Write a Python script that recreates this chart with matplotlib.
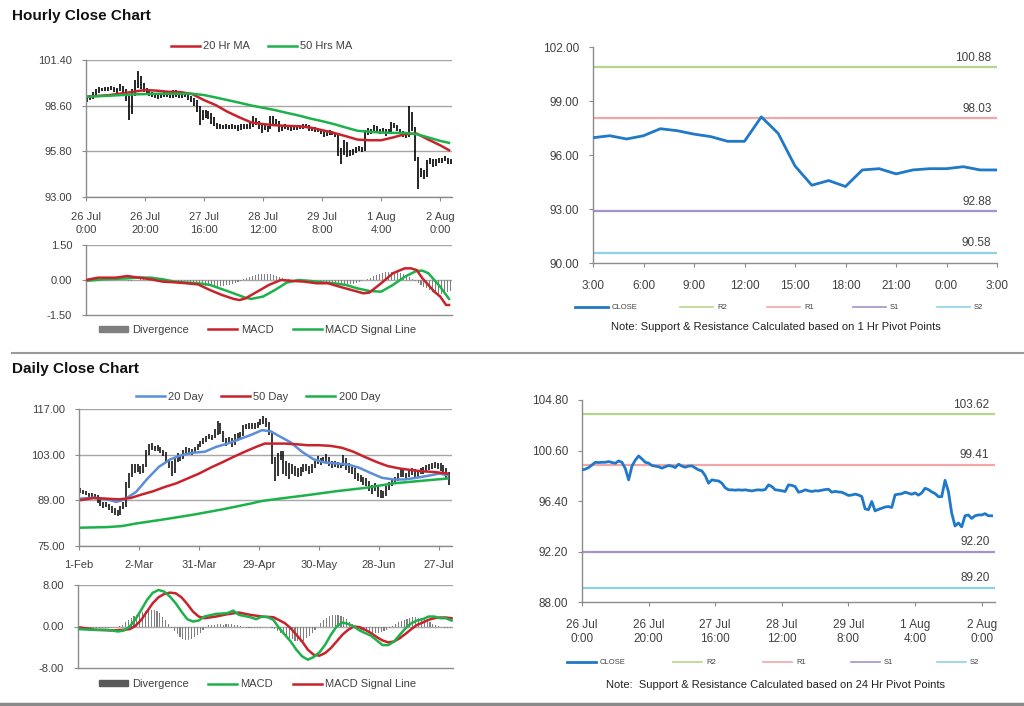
import matplotlib
matplotlib.use('Agg')
import matplotlib.pyplot as plt
from matplotlib.patches import Patch
from matplotlib.lines import Line2D

plt.rcParams['font.family'] = ['Liberation Sans', 'DejaVu Sans']

# ---------------- hourly data: 26 Jul 0:00 -> 2 Aug 3:00 (trading hours) ----------------
hourly_close = [
    98.99, 99.05, 99.18, 99.40, 99.62, 99.60, 99.62, 99.62, 99.68, 99.60,
    99.54, 99.73, 99.62, 99.10, 98.16, 99.30, 99.80, 100.15, 99.90, 99.62,
    99.55, 99.35, 99.30, 99.25, 99.13, 99.25, 99.35, 99.30, 99.18, 99.46,
    99.30, 99.21, 99.30, 99.32, 99.15, 98.99, 98.90, 98.50, 97.88, 98.16,
    98.10, 98.07, 97.88, 97.50, 97.33, 97.33, 97.30, 97.33, 97.30, 97.33,
    97.28, 97.24, 97.30, 97.33, 97.30, 97.35, 97.74, 97.60, 97.33, 97.30,
    97.25, 97.19, 97.74, 97.70, 97.60, 97.13, 97.20, 97.33, 97.25, 97.19,
    97.25, 97.24, 97.30, 97.35, 97.38, 97.13, 97.20, 97.15, 97.13, 97.00,
    96.86, 96.90, 96.97, 96.90, 96.77, 95.75, 95.67, 96.36, 95.58, 95.70,
    95.80, 95.90, 95.94, 95.86, 96.91, 96.97, 97.00, 97.13, 97.05, 96.96,
    97.07, 96.89, 97.07, 97.46, 97.35, 97.16, 97.02, 96.76, 96.76, 98.12,
    97.20, 95.39, 94.32, 94.58, 94.25, 95.17, 95.24, 94.95, 95.17, 95.24,
    95.24, 95.35, 95.17, 95.17]
hourly_high = [
    99.20, 99.25, 99.45, 99.65, 99.75, 99.70, 99.72, 99.75, 99.80, 99.72,
    99.70, 99.90, 99.80, 99.65, 99.20, 99.60, 100.20, 100.75, 100.40, 100.00,
    99.70, 99.60, 99.45, 99.40, 99.35, 99.40, 99.50, 99.45, 99.40, 99.55,
    99.55, 99.40, 99.45, 99.45, 99.40, 99.20, 99.05, 98.95, 98.55, 98.35,
    98.35, 98.30, 98.15, 97.90, 97.55, 97.45, 97.42, 97.45, 97.42, 97.45,
    97.42, 97.40, 97.45, 97.50, 97.45, 97.55, 97.95, 97.85, 97.65, 97.45,
    97.40, 97.35, 97.95, 97.95, 97.80, 97.65, 97.35, 97.45, 97.40, 97.35,
    97.35, 97.38, 97.42, 97.48, 97.50, 97.40, 97.32, 97.28, 97.25, 97.15,
    97.05, 97.00, 97.08, 97.05, 96.95, 96.80, 96.00, 96.50, 96.40, 95.90,
    95.95, 96.05, 96.10, 96.05, 97.10, 97.25, 97.20, 97.40, 97.35, 97.15,
    97.25, 97.15, 97.20, 97.60, 97.55, 97.40, 97.20, 97.05, 97.00, 98.60,
    98.20, 97.30, 95.45, 94.75, 94.65, 95.25, 95.40, 95.30, 95.30, 95.40,
    95.40, 95.50, 95.40, 95.30]
hourly_low = [
    98.85, 98.95, 99.00, 99.15, 99.35, 99.50, 99.52, 99.50, 99.55, 99.45,
    99.40, 99.50, 99.40, 98.90, 97.70, 98.10, 99.20, 99.70, 99.60, 99.45,
    99.30, 99.20, 99.15, 99.10, 99.00, 99.05, 99.15, 99.15, 99.05, 99.10,
    99.15, 99.05, 99.10, 99.15, 98.95, 98.80, 98.60, 98.20, 97.40, 97.75,
    97.85, 97.80, 97.50, 97.35, 97.20, 97.20, 97.20, 97.20, 97.18, 97.20,
    97.15, 97.05, 97.10, 97.20, 97.15, 97.20, 97.30, 97.40, 97.20, 96.95,
    97.10, 97.00, 97.15, 97.50, 97.40, 97.00, 97.05, 97.15, 97.10, 97.05,
    97.10, 97.10, 97.15, 97.20, 97.25, 97.05, 97.05, 97.00, 96.98, 96.85,
    96.70, 96.75, 96.80, 96.78, 96.65, 95.50, 95.05, 95.60, 95.45, 95.50,
    95.60, 95.70, 95.80, 95.75, 95.85, 96.80, 96.85, 96.95, 96.90, 96.85,
    96.90, 96.75, 96.85, 97.00, 97.25, 97.05, 96.85, 96.65, 96.60, 96.70,
    97.05, 95.20, 93.50, 94.20, 94.10, 94.20, 95.05, 94.85, 94.90, 95.10,
    95.10, 95.20, 95.05, 95.05]
hourly_ticks = [0, 20, 40, 60, 80, 100, 120]
hourly_ticklabels = ['26 Jul\n0:00', '26 Jul\n20:00', '27 Jul\n16:00', '28 Jul\n12:00',
                     '29 Jul\n8:00', '1 Aug\n4:00', '2 Aug\n0:00']

ma20h_x = [0, 8, 12, 16, 20, 24, 28, 32, 36, 40, 44, 48, 52, 56, 60, 64, 68, 72, 76, 80,
           84, 88, 92, 96, 100, 104, 108, 112, 116, 120, 123]
ma20h = [99.15, 99.25, 99.35, 99.45, 99.56, 99.52, 99.45, 99.43, 99.31, 98.94, 98.63, 98.22,
         97.88, 97.57, 97.47, 97.40, 97.36, 97.34, 97.26, 97.10, 96.93, 96.73, 96.52, 96.48,
         96.48, 96.65, 96.85, 96.89, 96.52, 96.17, 95.87]
ma50h_x = [0, 8, 16, 24, 32, 36, 40, 44, 48, 52, 56, 60, 64, 68, 72, 76, 80, 84, 88, 92,
           96, 100, 104, 108, 112, 116, 120, 123]
ma50h = [99.15, 99.21, 99.29, 99.33, 99.33, 99.33, 99.25, 99.10, 98.94, 98.78, 98.61, 98.47,
         98.33, 98.16, 98.00, 97.81, 97.65, 97.47, 97.26, 97.06, 97.00, 96.95, 96.93, 96.93,
         96.85, 96.65, 96.44, 96.32]

macd_h_x = [0, 4, 10, 14, 18, 22, 26, 30, 34, 38, 42, 46, 50, 52, 54, 58, 62, 66, 70, 74,
            78, 82, 86, 90, 94, 96, 100, 104, 108, 110, 112, 114, 118, 120, 122, 123]
macd_h = [0, 0.1, 0.1, 0.17, 0.1, 0.03, -0.07, -0.1, -0.14, -0.19, -0.43, -0.64, -0.81, -0.86,
          -0.79, -0.5, -0.21, 0, -0.04, -0.07, -0.14, -0.14, -0.29, -0.43, -0.57, -0.54, -0.14,
          0.29, 0.5, 0.5, 0.43, 0.07, -0.5, -0.71, -1.07, -1.07]
signal_h_x = [0, 6, 14, 18, 22, 26, 30, 34, 38, 42, 46, 50, 54, 56, 60, 64, 68, 72, 76, 80,
              84, 88, 92, 96, 100, 104, 108, 112, 114, 116, 118, 120, 122, 123]
signal_h = [-0.04, 0.03, 0.07, 0.11, 0.1, 0.03, -0.07, -0.11, -0.14, -0.21, -0.39, -0.57,
            -0.76, -0.81, -0.71, -0.43, -0.11, 0, -0.04, -0.1, -0.14, -0.21, -0.36, -0.47, -0.5,
            -0.21, 0.14, 0.39, 0.4, 0.29, 0, -0.29, -0.64, -0.81]
div_h = [
    0.02, 0.03, 0.04, 0.05, 0.05, 0.04, 0.04, 0.03, 0.03, 0.02,
    0.02, 0.03, 0.02, -0.02, -0.06, -0.05, -0.02, 0.02, 0.04, 0.03,
    -0.02, -0.04, -0.05, -0.06, -0.07, -0.06, -0.05, -0.04, -0.03, -0.02,
    -0.02, -0.03, -0.04, -0.05, -0.07, -0.09, -0.12, -0.15, -0.2, -0.22,
    -0.24, -0.26, -0.27, -0.28, -0.28, -0.27, -0.25, -0.22, -0.2, -0.17,
    -0.12, -0.08, -0.03, 0.03, 0.08, 0.13, 0.18, 0.22, 0.25, 0.27,
    0.27, 0.26, 0.24, 0.21, 0.17, 0.12, 0.08, 0.05, 0.03, 0.02,
    0.01, -0.01, -0.02, -0.03, -0.03, -0.04, -0.04, -0.05, -0.05, -0.05,
    -0.06, -0.07, -0.08, -0.1, -0.12, -0.14, -0.15, -0.16, -0.17, -0.16,
    -0.15, -0.13, -0.1, -0.06, -0.02, 0.04, 0.1, 0.16, 0.22, 0.27,
    0.3, 0.33, 0.35, 0.36, 0.35, 0.33, 0.3, 0.26, 0.2, 0.12,
    0.05, -0.04, -0.12, -0.2, -0.28, -0.36, -0.43, -0.5, -0.55, -0.58,
    -0.58, -0.55, -0.5, -0.45]

# pivot levels
pivot_1h = {'R2': 100.88, 'R1': 98.03, 'S1': 92.88, 'S2': 90.58}
pivot_24h = {'R2': 103.62, 'R1': 99.41, 'S1': 92.20, 'S2': 89.20}
last_day_labels = ['3:00', '6:00', '9:00', '12:00', '15:00', '18:00', '21:00', '0:00', '3:00']

# ---------------- daily data: 1 Feb -> 1 Aug (trading days) ----------------
daily_close = [
    92.0, 91.5, 91.2, 90.8, 90.5, 90.2, 89.8, 88.3, 87.5, 87.8,
    86.8, 86.2, 85.3, 84.8, 86.5, 87.2, 93.0, 96.5, 99.2, 98.5,
    99.0, 97.8, 99.5, 103.5, 105.0, 105.5, 104.8, 105.2, 104.0, 103.2,
    101.5, 100.2, 97.8, 101.2, 102.5, 102.0, 103.8, 104.5, 104.2, 103.8,
    104.5, 105.5, 106.5, 107.2, 108.0, 108.5, 108.2, 109.5, 112.5, 110.0,
    107.5, 106.8, 107.8, 106.5, 108.5, 107.8, 109.0, 111.2, 111.8, 111.5,
    112.0, 111.8, 112.2, 113.0, 113.5, 112.5, 110.0, 101.0, 97.0, 102.5,
    103.5, 98.5, 100.0, 97.5, 99.0, 98.0, 96.8, 98.5, 99.5, 99.0,
    98.0, 99.2, 100.5, 101.0, 100.8, 101.5, 102.0, 100.5, 99.8, 100.2,
    99.5, 99.8, 101.5, 100.8, 98.8, 98.2, 97.5, 95.8, 95.5, 94.5,
    94.8, 93.2, 92.8, 93.5, 92.0, 91.0, 90.5, 92.5, 93.5, 94.8,
    95.2, 96.5, 97.8, 97.2, 96.5, 97.5, 98.2, 96.8, 97.5, 98.0,
    98.5, 99.0, 99.5, 99.8, 100.0, 99.5, 99.2, 98.5, 97.5, 95.5]
daily_high = [
    92.8, 92.2, 91.8, 91.4, 91.2, 90.8, 90.5, 89.8, 88.5, 88.6,
    88.0, 87.2, 86.5, 86.0, 87.2, 88.5, 94.5, 97.5, 100.0, 100.0,
    100.2, 99.5, 100.2, 104.5, 106.2, 106.5, 105.8, 106.0, 105.5, 104.5,
    103.8, 101.8, 101.0, 102.2, 103.5, 103.0, 104.5, 105.5, 105.0, 104.8,
    105.2, 106.2, 107.2, 108.0, 108.8, 109.2, 109.0, 111.0, 113.4, 112.8,
    110.2, 108.2, 108.5, 108.0, 109.2, 109.5, 110.0, 112.0, 112.5, 112.6,
    112.8, 112.6, 113.0, 114.0, 115.0, 114.2, 113.0, 110.2, 102.2, 103.5,
    104.0, 104.2, 101.0, 100.5, 100.2, 99.5, 98.8, 99.2, 100.2, 100.2,
    99.5, 100.0, 101.2, 102.5, 102.0, 102.2, 103.2, 102.2, 101.0, 101.0,
    100.8, 100.5, 102.8, 102.0, 100.5, 99.2, 99.0, 97.5, 96.8, 96.0,
    95.8, 95.0, 93.8, 94.2, 93.8, 92.2, 91.8, 93.5, 94.5, 95.5,
    96.2, 97.5, 98.5, 98.5, 97.5, 98.5, 99.0, 98.5, 98.2, 98.8,
    99.2, 99.8, 100.2, 100.5, 100.8, 100.5, 100.5, 99.8, 98.8, 97.8]
daily_low = [
    91.2, 90.8, 90.5, 90.1, 89.8, 89.5, 88.2, 87.2, 86.8, 87.0,
    86.0, 85.0, 84.5, 84.3, 84.5, 86.2, 87.0, 92.8, 96.0, 97.5,
    97.8, 97.0, 97.5, 99.2, 103.0, 104.5, 104.0, 104.0, 103.5, 102.5,
    100.8, 99.0, 96.5, 97.5, 100.8, 101.2, 101.8, 103.5, 103.5, 103.0,
    103.5, 104.5, 105.2, 106.2, 107.0, 107.8, 107.5, 108.0, 109.0, 109.2,
    107.0, 105.8, 106.2, 105.5, 106.0, 107.2, 107.5, 108.8, 110.8, 110.8,
    111.0, 111.0, 111.2, 112.0, 112.5, 111.5, 109.0, 100.0, 95.0, 96.5,
    101.5, 97.0, 96.5, 95.5, 97.0, 96.5, 96.0, 96.5, 97.8, 98.0,
    97.2, 97.5, 99.0, 100.2, 99.8, 100.5, 100.5, 99.5, 99.0, 99.2,
    98.8, 98.8, 99.5, 98.2, 97.5, 97.0, 95.5, 94.8, 94.5, 93.8,
    93.5, 92.0, 91.0, 91.8, 90.0, 89.8, 89.6, 90.2, 92.2, 93.5,
    94.0, 95.0, 96.2, 96.2, 95.5, 96.0, 96.8, 96.0, 96.2, 97.0,
    97.2, 97.8, 98.2, 98.5, 98.8, 98.5, 98.0, 97.2, 95.8, 93.8]
daily_ticks = [0, 21, 42, 63, 84, 105, 126]
daily_ticklabels = ['1-Feb', '2-Mar', '31-Mar', '29-Apr', '30-May', '28-Jun', '27-Jul']

ma20d_x = [0, 5, 10, 13, 16, 20, 24, 28, 32, 36, 40, 44, 48, 52, 56, 60, 64, 67, 70, 74,
           78, 82, 86, 90, 94, 98, 102, 106, 110, 114, 118, 122, 126, 129]
ma20d = [89.5, 89.8, 89.3, 88.5, 89.3, 91.6, 95.7, 99.3, 101.6, 102.9, 103.6, 103.9, 105.4,
         106.4, 107.7, 109.0, 110.5, 110.2, 108.7, 106.8, 103.9, 101.6, 100.6, 100.3, 100.0,
         99.0, 97.4, 95.9, 95.4, 95.4, 95.9, 96.5, 97.2, 96.7]
ma50d_x = [0, 5, 10, 14, 18, 22, 26, 30, 34, 38, 42, 46, 50, 54, 58, 62, 65, 68, 72, 76,
           80, 84, 88, 92, 96, 100, 104, 108, 112, 116, 120, 124, 129]
ma50d = [89.0, 89.7, 89.5, 89.3, 89.7, 90.8, 91.8, 93.1, 94.2, 95.7, 97.2, 99.0, 100.6,
         102.3, 103.9, 105.4, 106.4, 106.4, 106.4, 106.2, 105.9, 105.9, 105.7, 105.1, 103.9,
         102.3, 100.8, 99.5, 98.8, 98.3, 97.9, 97.7, 97.2]
ma200d_x = [0, 10, 15, 20, 30, 40, 50, 60, 64, 70, 80, 90, 100, 110, 120, 129]
ma200d = [80.6, 80.8, 81.1, 81.9, 83.2, 84.6, 86.2, 88.0, 88.8, 89.5, 90.6, 91.8, 92.8,
          94.2, 95.0, 95.7]

macd_d_x = [0, 5, 10, 14, 16, 18, 20, 22, 24, 26, 28, 30, 32, 34, 36, 38, 40, 42, 44, 48,
            52, 54, 56, 60, 62, 64, 66, 68, 70, 72, 74, 76, 78, 80, 82, 84, 86, 88, 90, 92,
            94, 96, 98, 100, 102, 104, 106, 108, 110, 112, 114, 116, 118, 120, 122, 124, 126,
            128, 130]
macd_d = [-0.5, -0.64, -0.64, -0.96, -0.77, 0, 1.4, 3.2, 5.1, 6.5, 7.04, 6.72, 5.76, 4.48,
          2.88, 1.41, 0.96, 1.15, 1.92, 2.43, 2.56, 3.07, 2.24, 1.79, 1.41, 1.92, 1.79, 1.28,
          -0.32, -1.6, -2.88, -4.48, -5.76, -6.4, -5.89, -4.99, -3.52, -1.6, 0, 0.77, 0.51, 0,
          -0.77, -1.28, -1.79, -2.69, -3.58, -3.58, -2.88, -1.6, -0.32, 0.64, 1.15, 1.41, 1.92,
          1.92, 1.6, 1.6, 1.15]
signal_d_x = [0, 6, 12, 16, 18, 20, 22, 24, 26, 28, 30, 32, 34, 36, 38, 40, 42, 44, 48, 52,
              56, 60, 64, 68, 72, 74, 76, 78, 80, 82, 84, 86, 88, 90, 92, 94, 96, 98, 100, 102,
              104, 106, 108, 110, 112, 114, 116, 118, 120, 122, 124, 126, 128, 130]
signal_d = [-0.13, -0.64, -0.77, -0.64, -0.51, 0.13, 1.28, 2.88, 4.48, 5.63, 6.27, 6.53, 6.4,
            5.63, 4.35, 2.88, 1.92, 1.6, 1.92, 2.37, 2.69, 2.24, 1.92, 1.79, 0.64, -0.32, -1.6,
            -2.88, -4.48, -5.44, -5.63, -5.12, -4.16, -2.88, -1.6, -0.64, 0, -0.13, -0.64,
            -1.28, -2.05, -2.69, -3.07, -2.88, -2.24, -1.41, -0.51, 0.32, 0.77, 1.28, 1.6, 1.73,
            1.73, 1.6]
div_d = [
    -0.3, -0.35, -0.4, -0.4, -0.35, -0.3, -0.3, -0.25, -0.25, -0.2,
    -0.2, -0.15, -0.1, -0.05, 0.05, 0.3, 0.8, 1.3, 1.7, 2.0,
    2.3, 2.6, 2.8, 3.0, 3.1, 3.2, 3.2, 3.0, 2.6, 1.9,
    1.2, 0.5, -0.3, -0.9, -1.5, -2.0, -2.4, -2.6, -2.6, -2.4,
    -2.1, -1.7, -1.2, -0.7, -0.2, 0.2, 0.3, 0.35, 0.4, 0.4,
    0.35, 0.4, 0.45, 0.4, 0.35, 0.2, 0.05, -0.1, -0.2, -0.25,
    -0.3, -0.3, -0.25, -0.2, -0.15, -0.1, -0.1, -0.2, -0.5, -0.9,
    -1.3, -1.7, -2.0, -2.3, -2.5, -2.7, -2.8, -2.9, -2.7, -2.3,
    -1.8, -1.2, -0.6, 0.0, 0.6, 1.2, 1.7, 2.0, 2.2, 2.2,
    2.2, 2.1, 1.8, 1.4, 0.9, 0.4, -0.1, -0.4, -0.7, -0.9,
    -1.1, -1.2, -1.3, -1.3, -1.2, -1.1, -0.9, -0.6, -0.3, 0.1,
    0.5, 0.8, 1.1, 1.3, 1.5, 1.7, 1.8, 1.8, 1.7, 1.6,
    1.4, 1.1, 0.8, 0.5, 0.3, 0.1, -0.1, -0.2, -0.3, -0.3]

# ---------------- styling ----------------
W, H = 1024, 706
TXT = '#404040'
AXC = '#8c8c8c'
GRID = '#a6a6a6'
RED = '#c8232c'
GREEN = '#1db14b'
BLUE20 = '#5b8ed6'
CLOSE_BLUE = '#1f78c8'
PIV_COL = {'R2': '#b7d48c', 'R1': '#f1a7a7', 'S1': '#a592cb', 'S2': '#8ed2e8'}
DIV_COL = '#7f7f7f'


def box(l, t, r, b):
    return [l / W, 1 - b / H, (r - l) / W, (b - t) / H]


def excel_axes(ax, grid=True):
    for s in ['top', 'right']:
        ax.spines[s].set_visible(False)
    for s in ['left', 'bottom']:
        ax.spines[s].set_color(AXC)
        ax.spines[s].set_linewidth(1.0)
    ax.tick_params(axis='both', colors=AXC, labelcolor=TXT, labelsize=8, length=3,
                   width=0.8, direction='out')
    ax.tick_params(axis='y', pad=7)
    if grid:
        ax.yaxis.grid(True, color=GRID, lw=1.0)
        ax.set_axisbelow(True)


def pivot_legend(starts, y, line_len, colors):
    # Excel style legend: evenly placed entries under the chart
    for (name, x0), c in zip(starts, colors):
        fig.add_artist(Line2D([x0 / W, (x0 + line_len) / W], [1 - y / H] * 2,
                              color=c, lw=2.0 if name == 'CLOSE' else 1.2))
        fig.text((x0 + line_len + 4) / W, 1 - y / H, name, fontsize=5.5, color=TXT,
                 va='center', ha='left')


fig = plt.figure(figsize=(W / 100, H / 100), dpi=100)

# section titles and separators
fig.text(12 / W, 1 - 16 / H, 'Hourly Close Chart', fontsize=11, fontweight='bold',
         color='#111111', va='center')
fig.text(12 / W, 1 - 369 / H, 'Daily Close Chart', fontsize=11, fontweight='bold',
         color='#111111', va='center')
fig.add_artist(Line2D([12 / W, 1], [1 - 352.5 / H] * 2, color='#9a9a9a', lw=1.5))
fig.add_artist(Line2D([0, 1], [1 - 703.5 / H] * 2, color='#8a8a8a', lw=2.5))

nh = len(hourly_close)
xh = [i + 0.5 for i in range(nh)]

# ---- hourly close bars + MAs ----
ax = fig.add_axes(box(86, 60, 452, 197))
excel_axes(ax)
ax.vlines(xh, hourly_low, hourly_high, color='black', lw=1.2)
ax.plot(ma20h_x, ma20h, color=RED, lw=1.8, label='20 Hr MA')
ax.plot(ma50h_x, ma50h, color=GREEN, lw=1.8, label='50 Hrs MA')
ax.set_xlim(0, 124)
ax.set_ylim(93, 101.4)
ax.set_yticks([93, 95.8, 98.6, 101.4])
ax.yaxis.set_major_formatter(matplotlib.ticker.FormatStrFormatter('%.2f'))
ax.set_xticks(hourly_ticks)
ax.set_xticklabels(hourly_ticklabels, linespacing=1.35)
ax.tick_params(axis='x', pad=8)
ax.legend(loc='lower center', bbox_to_anchor=(0.48, 1.03), ncol=2, frameon=False,
          fontsize=8, handlelength=2.6, handletextpad=0.3, columnspacing=1.6,
          labelcolor=TXT, borderaxespad=0)

# ---- hourly MACD ----
ax = fig.add_axes(box(86, 245, 452, 315))
excel_axes(ax, grid=False)
ax.axhline(0, color=GRID, lw=1.0, zorder=0)
ax.axhline(1.5, color=GRID, lw=1.0, zorder=0)
ax.bar(xh, div_h, width=0.35, color=DIV_COL, zorder=1)
ax.plot(macd_h_x, macd_h, color=RED, lw=1.8, zorder=3)
ax.plot(signal_h_x, signal_h, color=GREEN, lw=1.8, zorder=2)
ax.set_xlim(0, 124)
ax.set_ylim(-1.5, 1.5)
ax.set_yticks([-1.5, 0, 1.5])
ax.yaxis.set_major_formatter(matplotlib.ticker.FormatStrFormatter('%.2f'))
ax.set_xticks([])
handles = [Patch(color=DIV_COL), Line2D([], [], color=RED, lw=1.8),
           Line2D([], [], color=GREEN, lw=1.8)]
ax.legend(handles, ['Divergence', 'MACD', 'MACD Signal Line'], loc='upper center',
          bbox_to_anchor=(0.47, -0.08), ncol=3, frameon=False, fontsize=8,
          handlelength=2.6, handleheight=0.5, handletextpad=0.3, columnspacing=1.8,
          labelcolor=TXT, borderaxespad=0)


def pivot_panel(rect, xs, ys, xlim, ylim, yticks, xticks, xticklabels, pivots, xpad):
    ax = fig.add_axes(box(*rect))
    excel_axes(ax, grid=False)
    for k in ['R2', 'R1', 'S1', 'S2']:
        ax.axhline(pivots[k], color=PIV_COL[k], lw=1.6, zorder=1)
        ax.annotate(f'{pivots[k]:.2f}', xy=(1, pivots[k]), xycoords=ax.get_yaxis_transform(),
                    xytext=(-4, 2.5), textcoords='offset points', ha='right', va='bottom',
                    fontsize=8.5, color=TXT)
    ax.plot(xs, ys, color=CLOSE_BLUE, lw=2.0, zorder=3)
    ax.set_xlim(*xlim)
    ax.set_ylim(*ylim)
    ax.set_yticks(yticks)
    ax.yaxis.set_major_formatter(matplotlib.ticker.FormatStrFormatter('%.2f'))
    ax.set_xticks(xticks)
    ax.set_xticklabels(xticklabels, linespacing=1.25)
    ax.tick_params(axis='x', pad=xpad, labelsize=8.5)
    ax.tick_params(axis='y', labelsize=8.5)
    return ax


legend_colors = [CLOSE_BLUE, PIV_COL['R2'], PIV_COL['R1'], PIV_COL['S1'], PIV_COL['S2']]
legend_names = ['CLOSE', 'R2', 'R1', 'S1', 'S2']

# ---- last 24 hours with 1 Hr pivots ----
last_day = hourly_close[-25:]
pivot_panel((593, 47, 997, 263), list(range(25)), last_day, (0, 24), (90, 102),
            [90, 93, 96, 99, 102], list(range(0, 25, 3)), last_day_labels, pivot_1h, 9)
pivot_legend(zip(legend_names, [575, 680, 767, 853, 937]), 307, 33, legend_colors)
fig.text(776 / W, 1 - 327 / H, 'Note: Support & Resistance Calculated based on 1 Hr Pivot Points',
         ha='center', va='center', fontsize=8, color='#222222')

# ---- hourly close with 24 Hr pivots ----
pivot_panel((582, 400, 995, 602), list(range(nh)), hourly_close, (0, 124), (88, 104.8),
            [88, 92.2, 96.4, 100.6, 104.8], hourly_ticks, hourly_ticklabels, pivot_24h, 9)
pivot_legend(zip(legend_names, [567, 673, 763, 851, 937]), 662, 29, legend_colors)
fig.text(776 / W, 1 - 685 / H,
         'Note:  Support & Resistance Calculated based on 24 Hr Pivot Points',
         ha='center', va='center', fontsize=8, color='#222222')

# ---- daily close bars + MAs ----
nd = len(daily_close)
xd = [i + 0.5 for i in range(nd)]
ax = fig.add_axes(box(79, 409, 452, 546))
excel_axes(ax)
ax.vlines(xd, daily_low, daily_high, color='black', lw=1.1)
ax.plot(ma20d_x, ma20d, color=BLUE20, lw=1.8, label='20 Day')
ax.plot(ma50d_x, ma50d, color=RED, lw=1.8, label='50 Day')
ax.plot(ma200d_x, ma200d, color=GREEN, lw=1.8, label='200 Day')
ax.set_xlim(0, 130.5)
ax.set_ylim(75, 117)
ax.set_yticks([75, 89, 103, 117])
ax.yaxis.set_major_formatter(matplotlib.ticker.FormatStrFormatter('%.2f'))
ax.set_xticks(daily_ticks)
ax.set_xticklabels(daily_ticklabels)
ax.tick_params(axis='x', pad=7)
ax.legend(loc='lower center', bbox_to_anchor=(0.48, 1.02), ncol=3, frameon=False,
          fontsize=8, handlelength=2.6, handletextpad=0.3, columnspacing=1.6,
          labelcolor=TXT, borderaxespad=0)

# ---- daily MACD ----
ax = fig.add_axes(box(78, 585, 453, 668))
excel_axes(ax, grid=False)
ax.axhline(0, color=GRID, lw=1.0, zorder=0)
ax.axhline(8, color=GRID, lw=1.0, zorder=0)
ax.bar(xd, div_d, width=0.4, color=DIV_COL, zorder=1)
ax.plot(macd_d_x, macd_d, color=GREEN, lw=1.8, zorder=3)
ax.plot(signal_d_x, signal_d, color=RED, lw=1.8, zorder=2)
ax.set_xlim(0, 130.5)
ax.set_ylim(-8, 8)
ax.set_yticks([-8, 0, 8])
ax.yaxis.set_major_formatter(matplotlib.ticker.FormatStrFormatter('%.2f'))
ax.set_xticks([])
handles = [Patch(color='#595959'), Line2D([], [], color=GREEN, lw=1.8),
           Line2D([], [], color=RED, lw=1.8)]
ax.legend(handles, ['Divergence', 'MACD', 'MACD Signal Line'], loc='upper center',
          bbox_to_anchor=(0.48, -0.08), ncol=3, frameon=False, fontsize=8,
          handlelength=2.6, handleheight=0.5, handletextpad=0.3, columnspacing=1.8,
          labelcolor=TXT, borderaxespad=0)

fig.savefig('out.png', dpi=100, facecolor='white')
